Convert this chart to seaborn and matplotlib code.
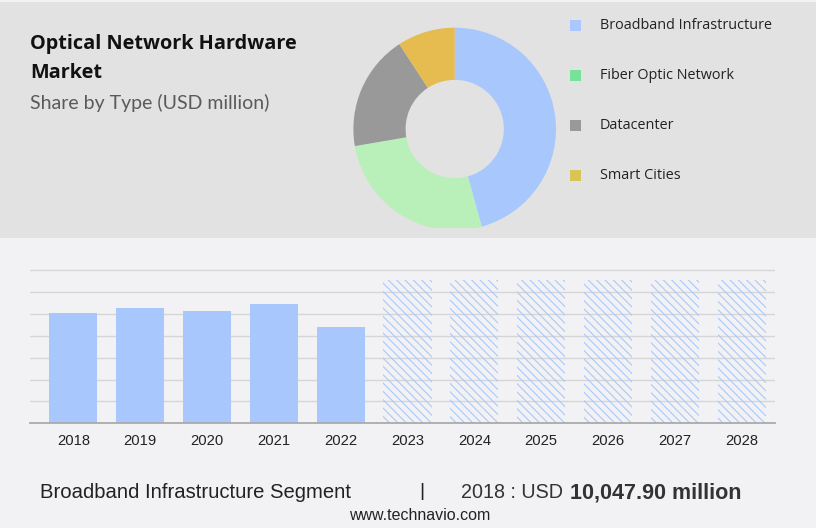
import matplotlib
matplotlib.use("Agg")
import matplotlib.pyplot as plt
import seaborn as sns
import pandas as pd
from matplotlib.patches import Rectangle

# ---------------- data ----------------
years = ["2018", "2019", "2020", "2021", "2022", "2023", "2024", "2025", "2026", "2027", "2028"]
values = [10047.9, 10580, 10300, 10940, 8850, 13100, 13100, 13100, 13100, 13100, 13100]
forecast = [False, False, False, False, False, True, True, True, True, True, True]

segments = ["Broadband Infrastructure", "Fiber Optic Network", "Datacenter", "Smart Cities"]
shares = [45.7, 26.6, 18.5, 9.2]
slice_colors = ["#a8c8fd", "#b9efb9", "#999999", "#e6bb50"]
legend_colors = ["#a8c8ff", "#77e39a", "#999999", "#dcc454"]

title_lines = ["Optical Network Hardware", "Market"]
subtitle = "Share by Type (USD million)"
footer_left = "Broadband Infrastructure Segment"
footer_year = "2018 : USD "
footer_value = "10,047.90 million"
source = "www.technavio.com"

# ---------------- figure ----------------
W, H = 816, 528
sns.set_theme(style="white")
plt.rcParams["font.family"] = ["Liberation Sans", "DejaVu Sans"]
plt.rcParams["hatch.linewidth"] = 0.8
fig = plt.figure(figsize=(W / 100, H / 100), dpi=100)
fig.patch.set_facecolor("#f2f2f4")

def fx(px):
    return px / W

def fy(py):
    return 1 - py / H

# top panel
fig.add_artist(Rectangle((0, fy(238)), 1, fy(2) - fy(238), transform=fig.transFigure,
                         facecolor="#e2e2e2", edgecolor="none", zorder=0))

# titles
fig.text(fx(30), fy(44), title_lines[0], fontsize=14.3, fontweight="bold",
         family=["Open Sans", "DejaVu Sans"], color="#111111", va="center", ha="left")
fig.text(fx(30), fy(73), title_lines[1], fontsize=14.3, fontweight="bold",
         family=["Open Sans", "DejaVu Sans"], color="#111111", va="center", ha="left")
fig.text(fx(30), fy(103), subtitle, fontsize=14.0, family=["Lato", "DejaVu Sans"],
         color="#5a5a5a", va="center", ha="left", fontweight="normal")

# ---------------- donut ----------------
cx, cy, R = 454.7, 129.0, 101.3
clip_bottom = 227.5
axd = fig.add_axes([fx(cx - R - 2), fy(clip_bottom), fx(2 * R + 4), (clip_bottom - (cy - R - 2)) / H])
wedges, _ = axd.pie(shares, colors=slice_colors, startangle=90, counterclock=False, radius=1,
                    wedgeprops=dict(width=0.515, edgecolor="none"))
for w in wedges:
    w.set_clip_on(True)
    w.set_clip_path(axd.patch)
axd.set_xlim(-(R + 2) / R, (R + 2) / R)
axd.set_ylim(-(clip_bottom - cy) / R, (cy - (cy - R - 2)) / R)
axd.set_aspect("auto")
axd.axis("off")

# legend
for i, (lab, col) in enumerate(zip(segments, legend_colors)):
    yc = 25.3 + 50 * i
    fig.add_artist(Rectangle((fx(570), fy(yc + 5.5)), fx(11), 11 / H, transform=fig.transFigure,
                             facecolor=col, edgecolor="none"))
    fig.text(fx(600), fy(yc), lab, fontsize=10.4, family=["Open Sans", "DejaVu Sans"],
             color="#222222", va="center", ha="left")

# ---------------- bar chart ----------------
top_px, base_px = 266.0, 423.3
ymax = 14000 * (base_px - top_px) / (base_px - 270.3)
axb = fig.add_axes([fx(30), fy(base_px), fx(745), (base_px - top_px) / H])
axb.set_facecolor("none")
df = pd.DataFrame({"year": years, "value": values, "forecast": forecast})
sns.barplot(data=df, x="year", y="value", ax=axb, color="#a8c8fd", width=0.72,
            saturation=1, linewidth=0, edgecolor="none")
for patch, fc in zip(axb.patches, forecast):
    if fc:
        patch.set_facecolor("none")
        patch.set_edgecolor("#a8c8fd")
        patch.set_hatch("\\\\\\\\")
        patch.set_linewidth(0)

axb.set_xlim(-0.648, 10.50)
axb.set_ylim(0, ymax)
axb.set_yticks(range(2000, 14001, 2000))
axb.yaxis.grid(True, color="#d6d6d9", linewidth=1)
axb.set_axisbelow(True)
for s in ["top", "right", "left"]:
    axb.spines[s].set_visible(False)
axb.spines["bottom"].set_color("#aaaaaa")
axb.spines["bottom"].set_linewidth(1.3)
axb.tick_params(axis="y", left=False, labelleft=False)
axb.tick_params(axis="x", bottom=False, length=0, pad=8, labelsize=10.6, labelcolor="#222222")
axb.set_xlabel("")
axb.set_ylabel("")

# ---------------- footer ----------------
ff = ["Liberation Sans Narrow", "Liberation Sans"]
fig.text(fx(40), fy(493), footer_left, fontsize=14.6, color="#222222",
         family=ff, va="center", ha="left")
fig.text(fx(422), fy(492), "|", fontsize=14, color="#222222", va="center", ha="center")
fig.text(fx(461), fy(493), footer_year, fontsize=14.2, color="#333333",
         family=ff, va="center", ha="left")
fig.text(fx(570), fy(493), footer_value, fontsize=15.5, color="#333333", fontweight="bold",
         family=ff, va="center", ha="left")
fig.text(fx(420), fy(516), source, fontsize=11.5, color="#222222",
         family=ff, va="center", ha="center")

fig.savefig("out.png", dpi=100, facecolor=fig.get_facecolor())
